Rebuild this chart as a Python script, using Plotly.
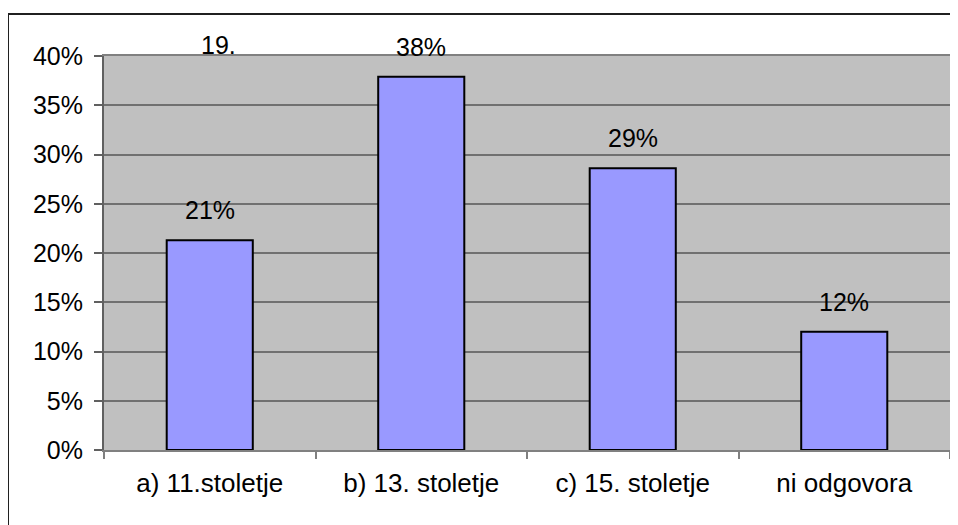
import plotly.graph_objects as go

categories = ["a) 11.stoletje", "b) 13. stoletje", "c) 15. stoletje", "ni odgovora"]
values = [21.3, 37.9, 28.6, 12.0]
value_labels = ["21%", "38%", "29%", "12%"]
y_ticks = [0, 5, 10, 15, 20, 25, 30, 35, 40]
y_tick_labels = ["0%", "5%", "10%", "15%", "20%", "25%", "30%", "35%", "40%"]
title_text = "19."

FONT = "Liberation Sans, Arial, sans-serif"
FS = 25

# page body has an 8px margin: figure origin sits at (8, 8) in the window
OFF = 8
PL, PT, PR, PB = 104, 56, 950, 450  # plot area in window pixels
W, H = 958 - OFF, 525 - OFF
PW, PH = PR - PL, PB - PT

fig = go.Figure()
fig.add_trace(go.Bar(
    x=categories, y=values,
    marker=dict(color="#9999FF", line=dict(color="black", width=2)),
    hoverinfo="skip",
))

for c, v, t in zip(categories, values, value_labels):
    fig.add_annotation(x=c, y=v, text=t, showarrow=False, yanchor="middle",
                       yshift=30, font=dict(family=FONT, size=FS, color="black"))

fig.update_layout(
    width=W, height=H,
    margin=dict(l=PL - OFF, r=W - (PR - OFF), t=PT - OFF, b=H - (PB - OFF), autoexpand=False),
    paper_bgcolor="white", plot_bgcolor="#C0C0C0",
    bargap=0.593, showlegend=False,
    font=dict(family=FONT, size=FS, color="black"),
    annotations=list(fig.layout.annotations) + [
        dict(text=title_text, xref="paper", yref="paper", x=(218 - PL) / PW, y=1 + (PT - 45) / PH,
             xanchor="center", yanchor="middle", showarrow=False,
             font=dict(family=FONT, size=FS, color="black"))
    ],
    shapes=[
        dict(type="rect", xref="paper", yref="paper",
             x0=(8 - PL) / PW, x1=1.1, y0=-0.3, y1=1 + (PT - 14) / PH,
             line=dict(color="#202020", width=2), fillcolor="rgba(0,0,0,0)", layer="below"),
    ],
)

fig.update_xaxes(
    type="category", tickson="boundaries", ticks="outside", ticklen=7, tickwidth=1.5,
    tickcolor="#808080", showline=True, linecolor="#808080", linewidth=2, mirror=True,
    showgrid=False, ticklabelstandoff=9, tickfont=dict(size=FS + 1),
)
fig.update_yaxes(
    range=[0, 40], tickvals=y_ticks, ticktext=y_tick_labels,
    ticks="outside", ticklen=8, tickwidth=1.5, tickcolor="#606060",
    showline=True, linecolor="#606060", linewidth=2, mirror=True,
    showgrid=True, gridcolor="#707070", gridwidth=1.5, zeroline=False,
    ticklabelstandoff=6, tickfont=dict(size=FS),
)

fig.write_html("out.html")
